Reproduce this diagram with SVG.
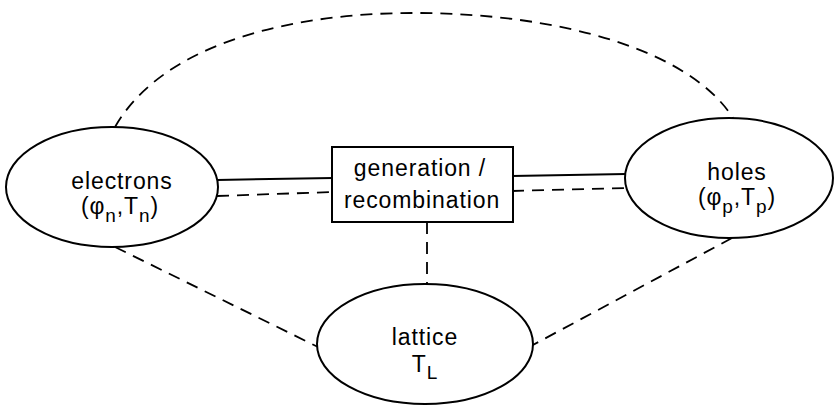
<svg xmlns="http://www.w3.org/2000/svg" width="836" height="408" viewBox="0 0 836 408">
<style>
.node{fill:#fff;stroke:#000;stroke-width:2}
.solid{fill:none;stroke:#000;stroke-width:2}
.dash{fill:none;stroke:#000;stroke-width:1.8;stroke-dasharray:12 8}
text{font-family:"Liberation Sans",Arial,sans-serif;font-size:23px;fill:#000;text-anchor:middle;letter-spacing:0.9px}
.sub{font-size:19px}
</style>
<rect width="836" height="408" fill="#fff"/>
<g id="connectors">
<path class="dash" d="M115,127 C165,40 300,12 420,13 C560,14 690,50 733,118"/>
<line class="solid" x1="217" y1="180" x2="333" y2="178"/>
<line class="dash" x1="217" y1="196" x2="333" y2="192"/>
<line class="solid" x1="512" y1="176" x2="626" y2="174"/>
<line class="dash" x1="512" y1="191" x2="626" y2="188"/>
<line class="dash" x1="427" y1="222" x2="427" y2="285"/>
<line class="dash" x1="115" y1="247" x2="318" y2="347"/>
<line class="dash" x1="732" y1="238" x2="531" y2="346"/>
</g>
<g id="electrons">
<ellipse class="node" cx="112" cy="187" rx="106" ry="60"/>
<text x="122" y="189">electrons</text>
<text x="120" y="214">(φ<tspan class="sub" dy="8">n</tspan><tspan dy="-8">,T</tspan><tspan class="sub" dy="8">n</tspan><tspan dy="-8">)</tspan></text>
</g>
<g id="holes">
<ellipse class="node" cx="729" cy="178" rx="104" ry="60"/>
<text x="737" y="180">holes</text>
<text x="737" y="205">(φ<tspan class="sub" dy="8">p</tspan><tspan dy="-8">,T</tspan><tspan class="sub" dy="8">p</tspan><tspan dy="-8">)</tspan></text>
</g>
<g id="genrec">
<rect class="node" x="332" y="147" width="181" height="75"/>
<text x="420" y="176">generation /</text>
<text x="422" y="208">recombination</text>
</g>
<g id="lattice">
<ellipse class="node" cx="425" cy="344" rx="108" ry="60"/>
<text x="425" y="345">lattice</text>
<text x="425" y="372">T<tspan class="sub" dy="7">L</tspan></text>
</g>
</svg>
